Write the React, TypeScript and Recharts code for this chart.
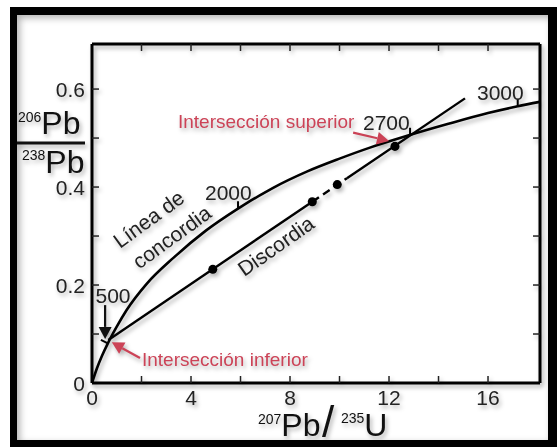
import React from 'react';
import {
    ComposedChart,
    Line,
    Scatter,
    XAxis,
    YAxis,
    ReferenceLine,
} from 'recharts';

// concordia curve (207Pb/235U, 206Pb/238U)
const concordia = [
    { x: 0, y: 0 },
    { x: 0.2, y: 0.03 },
    { x: 0.4, y: 0.055 },
    { x: 0.64, y: 0.081 },
    { x: 1.0, y: 0.115 },
    { x: 1.4, y: 0.149 },
    { x: 2.2, y: 0.202 },
    { x: 3.3, y: 0.256 },
    { x: 4.6, y: 0.311 },
    { x: 5.9, y: 0.356 },
    { x: 7.3, y: 0.398 },
    { x: 8.7, y: 0.432 },
    { x: 10.0, y: 0.458 },
    { x: 11.2, y: 0.48 },
    { x: 12.7, y: 0.504 },
    { x: 14.4, y: 0.529 },
    { x: 16.0, y: 0.551 },
    { x: 17.2, y: 0.565 },
    { x: 18.1, y: 0.574 },
];

// discordia, split where the picture draws it dashed
const discordiaLow = [
    { x: 0.66, y: 0.088 },
    { x: 8.9, y: 0.37 },
];
const discordiaDashed = [
    { x: 8.9, y: 0.37 },
    { x: 10.3, y: 0.418 },
];
const discordiaHigh = [
    { x: 10.3, y: 0.418 },
    { x: 15.07, y: 0.581 },
];
const discordiaPoints = [
    { x: 4.88, y: 0.232 },
    { x: 8.9, y: 0.37 },
    { x: 9.91, y: 0.405 },
    { x: 12.24, y: 0.483 },
];

// small age ticks on the concordia
const ageTicks = [
    { age: '500', from: { x: 0.64, y: 0.081 }, to: { x: 0.36, y: 0.088 } },
    { age: '2000', from: { x: 5.9, y: 0.356 }, to: { x: 5.9, y: 0.371 } },
    { age: '2700', from: { x: 12.85, y: 0.506 }, to: { x: 12.85, y: 0.521 } },
    { age: '3000', from: { x: 17.2, y: 0.565 }, to: { x: 17.2, y: 0.58 } },
];

// arrows: [tail, head]
const arrows = [
    { color: '#111111', from: { x: 0.53, y: 0.159 }, to: { x: 0.53, y: 0.09 } },
    { color: '#cc4357', from: { x: 1.94, y: 0.051 }, to: { x: 0.8, y: 0.083 } },
    { color: '#cc4357', from: { x: 10.55, y: 0.511 }, to: { x: 12.0, y: 0.494 } },
];

const xTicks = [0, 2, 4, 6, 8, 10, 12, 14, 16];
const yTicks = [0, 0.1, 0.2, 0.3, 0.4, 0.5, 0.6];
const X_DOMAIN: [number, number] = [0, 18.1];
const Y_DOMAIN: [number, number] = [0, 0.692];

// chart box: plot spans left 92 .. right 540, top 44 .. bottom 383
const W = 557;
const H = 447;
const MARGIN = { top: 43, right: 16, bottom: 0, left: 0 };
const Y_AXIS_W = 92;
const X_AXIS_H = 64;

const FONT = '"Liberation Sans", Arial, Helvetica, sans-serif';
const RED = '#cc4357';
const TICK = 7;

const XTick = (props: any) => {
    const { x, y, payload } = props;
    const v = payload.value;
    return (
        <g>
            {v > 0 && <line x1={x} y1={y} x2={x} y2={y - TICK} stroke="#222" strokeWidth={1.5} />}
            {v % 4 === 0 && (
                <text x={x} y={y + 22} textAnchor="middle" fontSize={21} fontFamily={FONT} fill="#222">
                    {v}
                </text>
            )}
        </g>
    );
};

const YTick = (props: any) => {
    const { x, y, payload } = props;
    const v = payload.value;
    const even = Math.round(v * 10) % 2 === 0;
    return (
        <g>
            {v > 0 && <line x1={x} y1={y} x2={x + TICK} y2={y} stroke="#222" strokeWidth={1.5} />}
            {even && (
                <text x={x - 7} y={y + 7.5} textAnchor="end" fontSize={21} fontFamily={FONT} fill="#222">
                    {v === 0 ? '0' : v.toFixed(1)}
                </text>
            )}
        </g>
    );
};

// frame axes: inward tick marks only
const TopTick = (props: any) => (
    <line x1={props.x} y1={props.y} x2={props.x} y2={props.y + TICK} stroke="#222" strokeWidth={1.5} />
);
const RightTick = (props: any) => (
    <line x1={props.x} y1={props.y} x2={props.x - TICK} y2={props.y} stroke="#222" strokeWidth={1.5} />
);

const ArrowShape = (color: string) => (props: any) => {
    const { x1, y1, x2, y2 } = props;
    const dx = x2 - x1;
    const dy = y2 - y1;
    const len = Math.sqrt(dx * dx + dy * dy) || 1;
    const ux = dx / len;
    const uy = dy / len;
    const hl = 12;
    const hw = 6.5;
    const bx = x2 - ux * hl;
    const by = y2 - uy * hl;
    const pts = `${x2},${y2} ${bx - uy * hw},${by + ux * hw} ${bx + uy * hw},${by - ux * hw}`;
    return (
        <g>
            <line x1={x1} y1={y1} x2={bx} y2={by} stroke={color} strokeWidth={2.2} />
            <polygon points={pts} fill={color} />
        </g>
    );
};

const shadow = 'drop-shadow(2px 3px 2px rgba(0,0,0,0.3))';

export default function App() {
    return (
        <div style={{ position: 'fixed', left: 0, top: 0, width: W, height: H, background: '#fff', overflow: 'hidden' }}>
            {/* no scrollbars, so the whole 557px width stays visible */}
            <style>{'html, body { margin: 0; padding: 0; overflow: hidden; }'}</style>
            <div
                style={{
                    position: 'absolute',
                    left: 10,
                    top: 7,
                    width: 547,
                    height: 440,
                    boxSizing: 'border-box',
                    borderStyle: 'solid',
                    borderColor: '#000',
                    borderWidth: '8px 9px 7px 7px',
                    boxShadow: 'inset 3px 3px 7px rgba(0,0,0,0.3)',
                }}
            />
            <div style={{ position: 'absolute', left: 0, top: 0, filter: shadow }}>
                <ComposedChart width={W} height={H} margin={MARGIN}>
                    <XAxis
                        dataKey="x"
                        type="number"
                        domain={X_DOMAIN}
                        ticks={xTicks}
                        allowDataOverflow
                        height={X_AXIS_H}
                        tickLine={false}
                        tickSize={0}
                        tickMargin={0}
                        tick={<XTick />}
                        axisLine={{ stroke: '#000', strokeWidth: 3 }}
                    />
                    <XAxis
                        xAxisId="top"
                        dataKey="x"
                        orientation="top"
                        type="number"
                        domain={X_DOMAIN}
                        ticks={xTicks.filter((t) => t > 0)}
                        allowDataOverflow
                        height={1}
                        tickLine={false}
                        tickSize={0}
                        tickMargin={0}
                        tick={<TopTick />}
                        axisLine={{ stroke: '#000', strokeWidth: 3 }}
                    />
                    <YAxis
                        type="number"
                        domain={Y_DOMAIN}
                        ticks={yTicks}
                        allowDataOverflow
                        width={Y_AXIS_W}
                        tickLine={false}
                        tickSize={0}
                        tickMargin={0}
                        tick={<YTick />}
                        axisLine={{ stroke: '#000', strokeWidth: 3 }}
                    />
                    <YAxis
                        yAxisId="right"
                        orientation="right"
                        type="number"
                        domain={Y_DOMAIN}
                        ticks={yTicks.filter((t) => t > 0)}
                        allowDataOverflow
                        width={1}
                        tickLine={false}
                        tickSize={0}
                        tickMargin={0}
                        tick={<RightTick />}
                        axisLine={{ stroke: '#000', strokeWidth: 3 }}
                    />
                    {/* invisible copy bound to the frame axes so they render */}
                    <Line
                        xAxisId="top"
                        yAxisId="right"
                        data={concordia}
                        dataKey="y"
                        stroke="none"
                        dot={false}
                        activeDot={false}
                        isAnimationActive={false}
                    />
                    <Line
                        data={concordia}
                        dataKey="y"
                        type="monotone"
                        stroke="#000"
                        strokeWidth={2.6}
                        dot={false}
                        isAnimationActive={false}
                    />
                    <Line data={discordiaLow} dataKey="y" type="linear" stroke="#000" strokeWidth={2.4} dot={false} isAnimationActive={false} />
                    <Line
                        data={discordiaDashed}
                        dataKey="y"
                        type="linear"
                        stroke="#000"
                        strokeWidth={2.4}
                        strokeDasharray="8 5"
                        dot={false}
                        isAnimationActive={false}
                    />
                    <Line data={discordiaHigh} dataKey="y" type="linear" stroke="#000" strokeWidth={2.4} dot={false} isAnimationActive={false} />
                    <Scatter data={discordiaPoints} dataKey="y" fill="#000" isAnimationActive={false} />
                    {ageTicks.map((t) => (
                        <ReferenceLine key={t.age} segment={[t.from, t.to]} stroke="#000" strokeWidth={2} />
                    ))}
                    {arrows.map((a, i) => (
                        <ReferenceLine key={i} segment={[a.from, a.to]} shape={ArrowShape(a.color)} />
                    ))}
                </ComposedChart>
            </div>
            <svg
                width={W}
                height={H}
                style={{ position: 'absolute', left: 0, top: 0, filter: shadow, pointerEvents: 'none' }}
                fontFamily={FONT}
            >
                {/* y axis title */}
                <text x={18} y={134} fill="#111">
                    <tspan fontSize={14} dy={-12}>206</tspan>
                    <tspan fontSize={32} dy={12}>Pb</tspan>
                </text>
                <line x1={17} y1={143} x2={85} y2={143} stroke="#111" strokeWidth={3} />
                <text x={22} y={173} fill="#111">
                    <tspan fontSize={14} dy={-13}>238</tspan>
                    <tspan fontSize={32} dy={13}>Pb</tspan>
                </text>
                {/* x axis title */}
                <text x={258} y={436} fill="#111">
                    <tspan fontSize={14} dy={-12}>207</tspan>
                    <tspan fontSize={32} dy={12}>Pb</tspan>
                </text>
                <text x={322} y={437} fontSize={44} fill="#111">/</text>
                <text x={341} y={436} fill="#111">
                    <tspan fontSize={14} dy={-13}>235</tspan>
                    <tspan fontSize={32} dy={13}>U</tspan>
                </text>
                {/* ages */}
                <text x={113} y={303} fontSize={21} textAnchor="middle" fill="#222">500</text>
                <text x={205} y={200} fontSize={21} fill="#222">2000</text>
                <text x={363} y={130} fontSize={21} fill="#222">2700</text>
                <text x={477} y={100} fontSize={21} fill="#222">3000</text>
                {/* curve names */}
                <text x={153} y={225} fontSize={21} textAnchor="middle" fill="#222" transform="rotate(-36 153 225)">
                    Línea de
                </text>
                <text x={176} y={243} fontSize={21} textAnchor="middle" fill="#222" transform="rotate(-36 176 243)">
                    concordia
                </text>
                <text x={280} y={252} fontSize={21} textAnchor="middle" fill="#222" transform="rotate(-35 280 252)">
                    Discordia
                </text>
                {/* intersections */}
                <text x={178} y={128} fontSize={19} fill={RED}>Intersección superior</text>
                <text x={142} y={366} fontSize={19} fill={RED}>Intersección inferior</text>
            </svg>
        </div>
    );
}
